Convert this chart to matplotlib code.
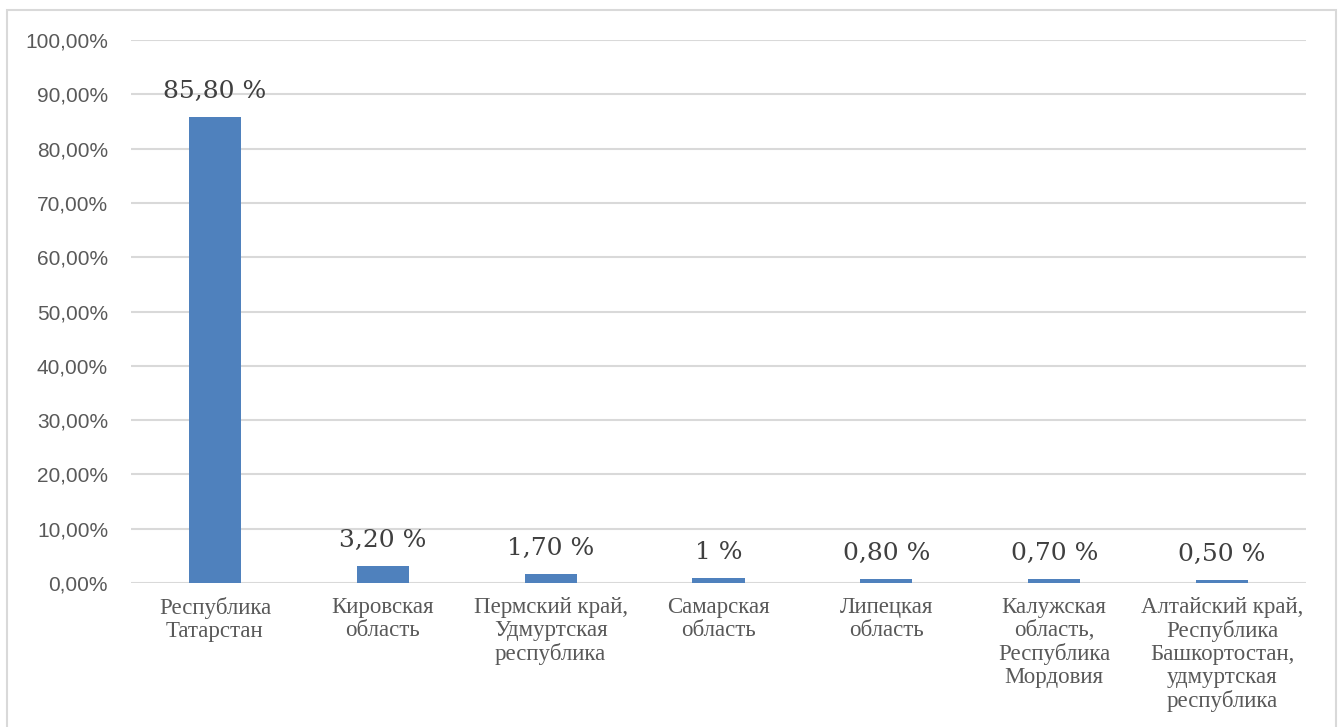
#!/usr/bin/env python3

import numpy as np
from matplotlib import pyplot as plt
from matplotlib.patches import Rectangle
from matplotlib.ticker import FuncFormatter

categories = ['Республика\nТатарстан', 'Кировская\nобласть',
              'Пермский край,\nУдмуртская\nреспублика', 'Самарская\nобласть',
              'Липецкая\nобласть', 'Калужская\nобласть,\nРеспублика\nМордовия',
              'Алтайский край,\nРеспублика\nБашкортостан,\nудмуртская\nреспублика']
values = [85.8, 3.2, 1.7, 1.0, 0.8, 0.7, 0.5]
value_labels = ['85,80 %', '3,20 %', '1,70 %', '1 %', '0,80 %', '0,70 %', '0,50 %']

bar_col = '#4f81bd'
grid_col = '#d9d9d9'
text_col = '#595959'

fig = plt.figure(figsize=(13.42, 7.27), dpi=100)
# chart frame (open at the bottom, as in the reference)
frame = Rectangle((7/1342, -0.05), (1336-7)/1342, 1.05 - 10/727,
                  transform=fig.transFigure, fill=False, ec='#d9d9d9', lw=1.5)
fig.patches.append(frame)

ax = fig.add_axes((131/1342, 1-583/727, (1306-131)/1342, (583-40)/727))
x = np.arange(len(categories))
ax.bar(x, values, width=0.31, color=bar_col, zorder=3)

for xi, v, lab in zip(x, values, value_labels):
    ax.annotate(lab, (xi, v), xytext=(0, 10), textcoords='offset points',
                ha='center', va='bottom', fontsize=18, family='DejaVu Serif',
                color='#404040', zorder=4)

ax.set_xlim(-0.5, len(categories)-0.5)
ax.set_ylim(0, 100)
ax.set_yticks(np.arange(0, 101, 10))
ax.yaxis.set_major_formatter(FuncFormatter(lambda v, p: f'{v:.2f}%'.replace('.', ',')))
ax.grid(axis='y', color=grid_col, lw=1.5, zorder=0)
for s in ax.spines.values():
    s.set_visible(False)
ax.tick_params(axis='y', length=0, pad=16.5, labelsize=15, labelcolor=text_col)
ax.tick_params(axis='x', length=0, pad=10)
for t in ax.get_yticklabels():
    t.set_family('Liberation Sans')
ax.set_xticks(x)
ax.set_xticklabels(categories, family='Liberation Serif', fontsize=16.5,
                   color=text_col, linespacing=1.12)

plt.savefig('out.png', dpi=100)
